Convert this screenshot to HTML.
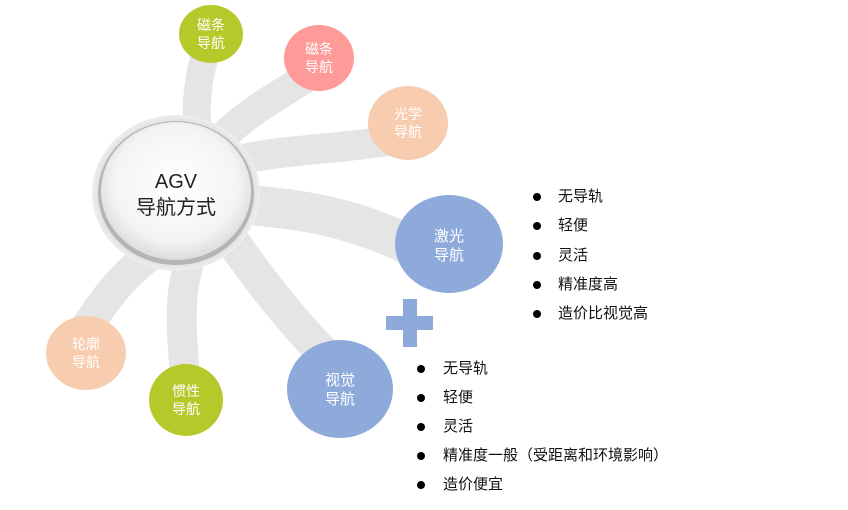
<!DOCTYPE html>
<html><head><meta charset="utf-8"><style>
body{margin:0;background:#fff;width:848px;height:510px;overflow:hidden;font-family:"Liberation Sans","Noto Sans CJK SC",sans-serif}
.l{position:absolute;font-size:15px;color:#111;line-height:20px}
.l span{position:absolute;left:0;top:6px;width:8px;height:8px;border-radius:50%;background:#000}
.l b{font-weight:normal;position:absolute;white-space:nowrap}
</style></head><body>
<svg width="848" height="510" style="position:absolute;left:0;top:0" font-family="Liberation Sans, Noto Sans CJK SC, sans-serif">
<defs>
<radialGradient id="g" cx="50%" cy="45%" r="55%"><stop offset="0" stop-color="#fff"/><stop offset="0.75" stop-color="#f4f4f4"/><stop offset="1" stop-color="#dcdcdc"/></radialGradient>
<radialGradient id="h" cx="50%" cy="50%" r="50%"><stop offset="0.85" stop-color="#d8d8d8"/><stop offset="1" stop-color="#eeeeee"/></radialGradient>
</defs>
<g fill="none" stroke="#e5e5e5" stroke-linecap="round">
<path d="M205 55 C195 90 195 120 200 140" stroke-width="28"/>
<path d="M310 75 C280 95 250 110 225 135" stroke-width="30"/>
<path d="M395 140 C330 150 280 150 240 160" stroke-width="30"/>
<path d="M420 250 C350 215 300 210 250 205" stroke-width="40"/>
<path d="M330 360 C290 320 260 280 235 245" stroke-width="34"/>
<path d="M185 375 C180 320 180 290 190 260" stroke-width="30"/>
<path d="M85 330 C110 290 130 270 150 255" stroke-width="32"/>
<path d="M197 50 L212 50 L206 80 Z" fill="#e5e5e5" stroke="none"/>
</g>
<ellipse cx="176" cy="193" rx="84" ry="78" fill="url(#h)"/>
<ellipse cx="176" cy="193" rx="78" ry="72" fill="#b5b5b5"/>
<ellipse cx="176" cy="191" rx="75" ry="69" fill="url(#g)"/>
<text x="176" y="188" text-anchor="middle" font-size="20" fill="#222">AGV</text>
<text x="176" y="214" text-anchor="middle" font-size="20" fill="#222">导航方式</text>
<g font-size="14" fill="#fff" text-anchor="middle">
<ellipse cx="211" cy="34" rx="32" ry="29" fill="#b5ca2a"/><text x="211" y="30">磁条</text><text x="211" y="48">导航</text>
<ellipse cx="319" cy="58" rx="35" ry="33" fill="#fe9a98"/><text x="319" y="54">磁条</text><text x="319" y="72">导航</text>
<ellipse cx="408" cy="123" rx="40" ry="37" fill="#f8ccae"/><text x="408" y="119">光学</text><text x="408" y="137">导航</text>
<ellipse cx="449" cy="244" rx="54" ry="49" fill="#8eaadb"/><text x="449" y="241" font-size="15">激光</text><text x="449" y="260" font-size="15">导航</text>
<ellipse cx="86" cy="353" rx="40" ry="37" fill="#f8ccae"/><text x="86" y="349">轮廓</text><text x="86" y="367">导航</text>
<ellipse cx="186" cy="400" rx="37" ry="36" fill="#b5ca2a"/><text x="186" y="396">惯性</text><text x="186" y="414">导航</text>
<ellipse cx="340" cy="389" rx="53" ry="49" fill="#8eaadb"/><text x="340" y="385" font-size="15">视觉</text><text x="340" y="404" font-size="15">导航</text>
</g>
<rect x="403" y="299" width="14" height="48" fill="#8eaadb"/>
<rect x="386" y="316" width="47" height="14" fill="#8eaadb"/>
</svg>
<div class="l" style="left:533px;top:187px"><span></span><b style="left:25px">无导轨</b></div>
<div class="l" style="left:533px;top:216px"><span></span><b style="left:25px">轻便</b></div>
<div class="l" style="left:533px;top:246px"><span></span><b style="left:25px">灵活</b></div>
<div class="l" style="left:533px;top:275px"><span></span><b style="left:25px">精准度高</b></div>
<div class="l" style="left:533px;top:304px"><span></span><b style="left:25px">造价比视觉高</b></div>
<div class="l" style="left:417px;top:359px"><span></span><b style="left:26px">无导轨</b></div>
<div class="l" style="left:417px;top:388px"><span></span><b style="left:26px">轻便</b></div>
<div class="l" style="left:417px;top:417px"><span></span><b style="left:26px">灵活</b></div>
<div class="l" style="left:417px;top:446px"><span></span><b style="left:26px">精准度一般（受距离和环境影响）</b></div>
<div class="l" style="left:417px;top:475px"><span></span><b style="left:26px">造价便宜</b></div>
</body></html>
